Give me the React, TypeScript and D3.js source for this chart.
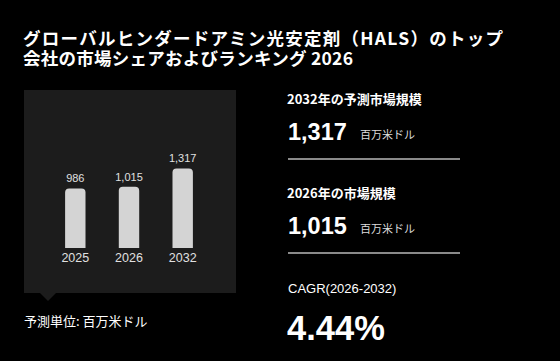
import React from "react";
import * as d3 from "d3";

const years = ["2025", "2026", "2032"];
const values = [986, 1015, 1317];
const titleLines = [
  "グローバルヒンダードアミン光安定剤（HALS）のトップ",
  "会社の市場シェアおよびランキング 2026",
];
const stats = [
  { label: "2032年の予測市場規模", value: "1,317", unit: "百万米ドル" },
  { label: "2026年の市場規模", value: "1,015", unit: "百万米ドル" },
];
const cagrLabel = "CAGR(2026-2032)";
const cagrValue = "4.44%";
const footnote = "予測単位: 百万米ドル";

const W = 560;
const H = 361;
const FONT = "'Noto Sans CJK JP', 'Noto Sans', 'Liberation Sans', sans-serif";
const NUMFONT = "'Liberation Sans', Arial, sans-serif";

export default function App() {
  const x = d3.scaleBand<string>().domain(years).range([49, 209]).paddingInner(0.62).paddingOuter(0.3);
  const y = d3.scaleLinear().domain([0, 1317]).range([248, 168.4]);
  const r = 4;
  const barPath = (x0: number, y0: number, w: number, h: number) => {
    const p = d3.path();
    p.moveTo(x0, y0 + h);
    p.lineTo(x0, y0 + r);
    p.arcTo(x0, y0, x0 + r, y0, r);
    p.lineTo(x0 + w - r, y0);
    p.arcTo(x0 + w, y0, x0 + w, y0 + r, r);
    p.lineTo(x0 + w, y0 + h);
    p.closePath();
    return p.toString();
  };
  const fmt = d3.format(",");
  const titleWidths = [480, 330];
  return (
    <svg width={W} height={H} style={{ position: "absolute", left: 0, top: 0, background: "#000" }}>
      <rect x={0} y={0} width={W} height={H} fill="#000" />
      {titleLines.map((t, i) => (
        <text
          key={i}
          x={23}
          y={44.5 + i * 20.5}
          fill="#fff"
          fontFamily={FONT}
          fontWeight={700}
          fontSize={17.5}
          textLength={titleWidths[i]}
          lengthAdjust="spacing"
        >
          {t}
        </text>
      ))}
      <rect x={24} y={90} width={212} height={203} fill="#1c1c1c" />
      <path d="M40,293 L48,301 L56,293 Z" fill="#1c1c1c" />
      {years.map((yr, i) => {
        const bx = x(yr)!;
        const bw = x.bandwidth();
        const top = y(values[i]);
        return (
          <g key={yr}>
            <path d={barPath(bx, top, bw, y(0) - top)} fill="#d4d4d4" />
            <text x={bx + bw / 2} y={top - 6} textAnchor="middle" fill="#e0e0e0" fontFamily={NUMFONT} fontSize={11}>
              {fmt(values[i])}
            </text>
            <text x={bx + bw / 2} y={262} textAnchor="middle" fill="#e0e0e0" fontFamily={NUMFONT} fontSize={12.5}>
              {yr}
            </text>
          </g>
        );
      })}
      <text x={24} y={326} fill="#fff" fontFamily={FONT} fontSize={13}>
        {footnote}
      </text>
      {stats.map((s, i) => {
        const oy = i * 94;
        return (
          <g key={i}>
            <text x={287} y={104 + oy} fill="#fff" fontFamily={FONT} fontWeight={700} fontSize={13}>
              {s.label}
            </text>
            <text x={288} y={140 + oy} fill="#fff" fontFamily={NUMFONT} fontWeight={700} fontSize={23.5}>
              {s.value}
            </text>
            <text x={360} y={139 + oy} fill="#ddd" fontFamily={FONT} fontSize={11}>
              {s.unit}
            </text>
            <rect x={288} y={158 + oy} width={172} height={2} fill="#8a8a8a" />
          </g>
        );
      })}
      <text x={288} y={293} fill="#fff" fontFamily={NUMFONT} fontSize={13}>
        {cagrLabel}
      </text>
      <text x={287} y={340} fill="#fff" fontFamily={NUMFONT} fontWeight={700} fontSize={34.5}>
        {cagrValue}
      </text>
    </svg>
  );
}
